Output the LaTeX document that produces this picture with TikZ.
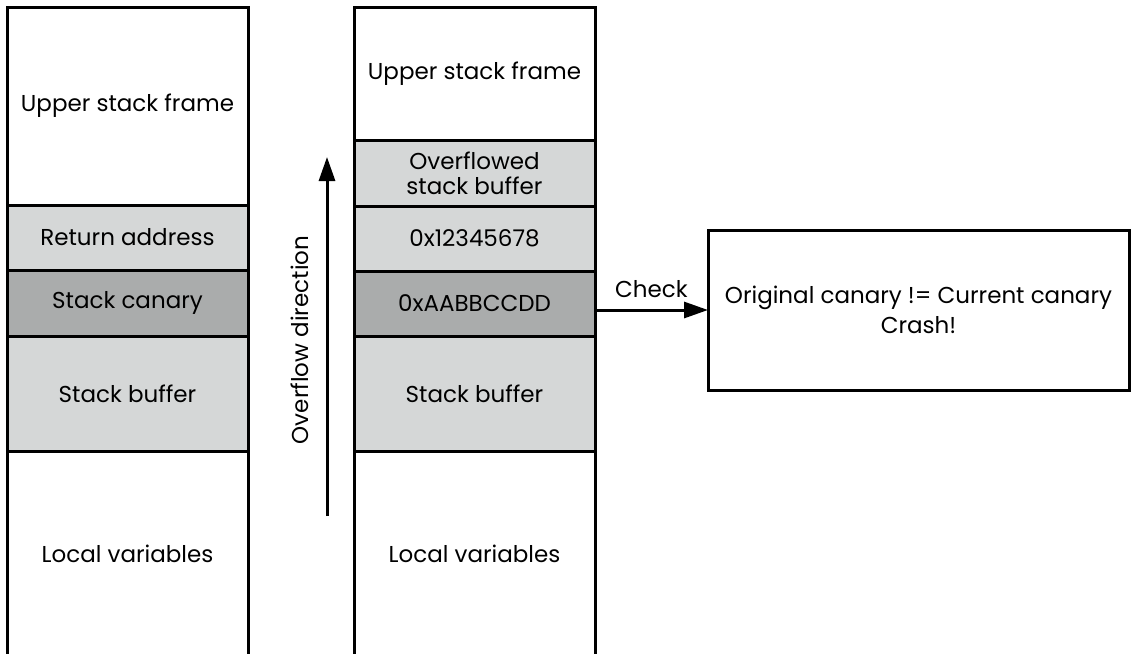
\documentclass[tikz,border=0pt]{standalone}
\usepackage{fontspec}
\setmainfont{Poppins}
\usetikzlibrary{arrows.meta,positioning}
\definecolor{stackgray}{RGB}{213,215,215}
\definecolor{canarygray}{RGB}{170,172,172}

\begin{document}
\begin{tikzpicture}[x=1pt,y=-1pt,
  cell/.style={draw,line width=3pt,outer sep=0pt,inner sep=0pt,minimum width=241pt,align=center,font=\fontsize{23}{25}\selectfont},
  lite/.style={cell,fill=stackgray},
  dark/.style={cell,fill=canarygray},
  arr/.style={line width=3pt,-{Triangle[length=24pt,width=16pt]}}]
\useasboundingbox (0,0) rectangle (1132,653);
% frame before the overflow
\node[cell,minimum height=198pt,anchor=north west] (lupper) at (7,7) {Upper stack frame};
\node[lite,minimum height=65pt,below=0pt of lupper] (lret) {Return address};
\node[dark,minimum height=66pt,below=0pt of lret] (lcan) {Stack canary};
\node[lite,minimum height=115pt,below=0pt of lcan] (lbuf) {Stack buffer};
\node[cell,minimum height=205pt,below=0pt of lbuf] (lvar) {Local variables};
% frame after the overflow
\node[cell,minimum height=133pt,anchor=north west] (mupper) at (354,7) {Upper stack frame};
\node[lite,minimum height=66pt,below=0pt of mupper] (mover) {Overflowed\\stack buffer};
\node[lite,minimum height=65pt,below=0pt of mover] (mret) {0x12345678};
\node[dark,minimum height=65pt,below=0pt of mret] (mcan) {0xAABBCCDD};
\node[lite,minimum height=115pt,below=0pt of mcan] (mbuf) {Stack buffer};
\node[cell,minimum height=205pt,below=0pt of mbuf] (mvar) {Local variables};
% overflow direction
\coordinate (ovlow) at (327,516);
\coordinate (ovhigh) at (327,157);
\draw[arr] (ovlow) -- (ovhigh);
\node[rotate=90,font=\fontsize{23}{25}\selectfont] (ovlabel) at (300,340) {Overflow direction};
% canary check
\node[cell,minimum width=421pt,minimum height=160pt,font=\fontsize{23}{30}\selectfont] (crash) at (918.5,310) {Original canary != Current canary\\Crash!};
\draw[arr] (mcan.east |- crash.west) -- (crash.west) node[midway,above=7pt,font=\fontsize{23}{25}\selectfont] (check) {Check};
\end{tikzpicture}
\end{document}
